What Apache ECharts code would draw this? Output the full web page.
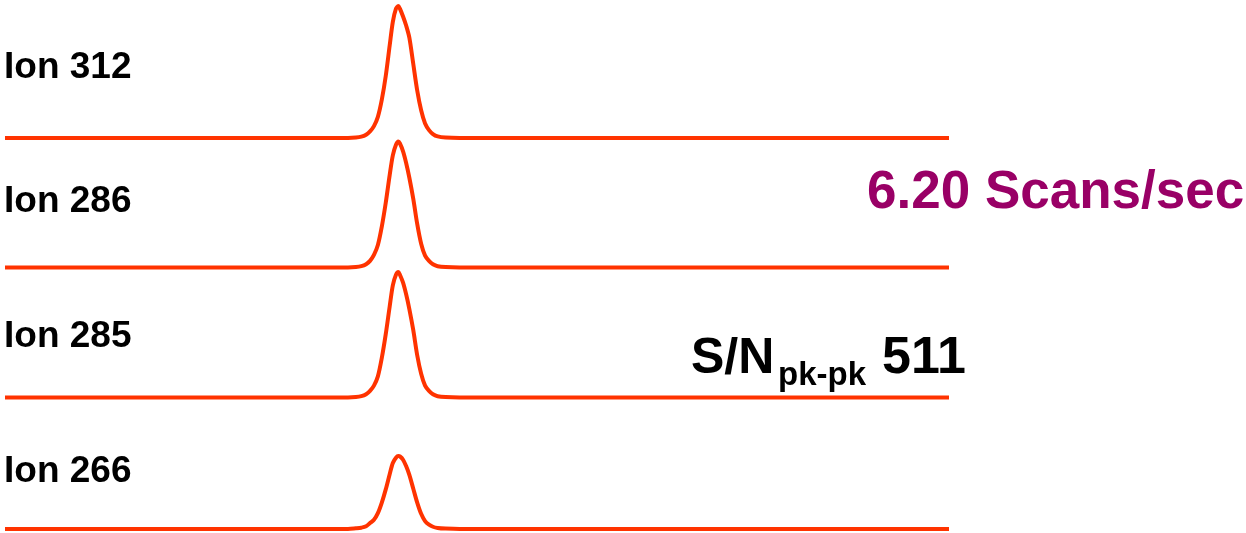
<!DOCTYPE html>
<html>
<head>
<meta charset="utf-8">
<script src="https://cdn.jsdelivr.net/npm/echarts@6/dist/echarts.min.js"></script>
<style>
  html, body { margin: 0; padding: 0; background: #ffffff; }
  #chart { width: 1246px; height: 533px; }
</style>
</head>
<body>
<div id="chart"></div>
<script>
// Scan times (seconds) shared by all extracted-ion traces
const scanTimes = [0, 20.65, 21.8, 22.3, 22.65, 22.95, 23.2, 23.45, 23.7, 23.95, 24.2, 24.45, 24.65, 24.85,
  25.0, 25.1, 25.3, 25.5, 25.7, 25.95, 26.2, 26.45, 26.7, 26.95, 27.2, 27.5, 28.0, 28.9, 60];

// Ion labels, top to bottom
const ionNames = ['Ion 312', 'Ion 286', 'Ion 285', 'Ion 266'];

// Relative abundance of each ion at every scan
const ion312 = [0, 0, 0, 0.3, 1, 2.5, 5, 9, 16, 29, 47, 70, 88, 98, 100, 98, 92, 85, 76, 56, 36, 21, 11, 6, 3, 1.2, 0.3, 0, 0];
const ion286 = [0, 0, 0, 0.3, 1, 2.5, 5, 9.5, 17, 31, 49, 70, 85, 93, 95.5, 94, 88, 79, 68, 52, 33, 18, 9, 5, 2.5, 1, 0.3, 0, 0];
const ion285 = [0, 0, 0, 0.3, 1, 2.5, 5, 9, 16, 30, 48, 69, 85, 93, 95, 93, 87, 78, 67, 51, 32, 18, 9, 5, 2.5, 1, 0.3, 0, 0];
const ion266 = [0, 0, 0, 0.5, 1, 2, 4.5, 7, 12, 20, 30, 41.5, 50, 54, 55.3, 55, 52.5, 47.5, 41, 30.5, 20, 11.5, 6, 3.3, 1.7, 0.8, 0.3, 0, 0];

const traces = [ion312, ion286, ion285, ion266];

const scanRate = '6.20 Scans/sec';
const snLabel = 'S/N';
const snSub = 'pk-pk';
const snValue = '511';

const traceColor = '#ff3300';
const font = '"Liberation Sans", Arial, sans-serif';

// Baseline of each panel (px from top) and its label centre
const baselines = [138, 267.5, 397.5, 529];
const labelY = [68, 202, 337, 472];
const panelH = 132;

const grids = [], xAxes = [], yAxes = [], series = [], graphics = [];
traces.forEach((vals, i) => {
  grids.push({ left: 5, right: 297, top: baselines[i] - panelH, height: panelH, containLabel: false });
  xAxes.push({ type: 'value', gridIndex: i, min: 0, max: 60, show: false });
  yAxes.push({ type: 'value', gridIndex: i, min: 0, max: 100, show: false });
  series.push({
    name: ionNames[i],
    type: 'line',
    xAxisIndex: i,
    yAxisIndex: i,
    data: scanTimes.map((t, k) => [t, vals[k]]),
    smooth: 0.3,
    showSymbol: false,
    clip: false,
    lineStyle: { color: traceColor, width: 4 },
    itemStyle: { color: traceColor }
  });
  graphics.push({
    type: 'text', x: 4, y: labelY[i],
    style: { text: ionNames[i], fill: '#000', font: 'bold 37px ' + font, verticalAlign: 'middle' }
  });
});

const chart = echarts.init(document.getElementById('chart'), null, { renderer: 'canvas' });

graphics.push(
  { type: 'text', x: 867, y: 193,
    style: { text: scanRate, fill: '#990066', font: 'bold 53px ' + font, verticalAlign: 'middle' } },
  { type: 'text', x: 691, y: 359,
    style: { text: snLabel, fill: '#000', font: 'bold 50px ' + font, verticalAlign: 'middle' } },
  { type: 'text', x: 778, y: 376,
    style: { text: snSub, fill: '#000', font: 'bold 33px ' + font, verticalAlign: 'middle' } },
  { type: 'text', x: 882, y: 359,
    style: { text: snValue, fill: '#000', font: 'bold 52px ' + font, verticalAlign: 'middle' } }
);

chart.setOption({
  animation: false,
  backgroundColor: '#ffffff',
  grid: grids,
  xAxis: xAxes,
  yAxis: yAxes,
  series: series,
  graphic: graphics
});
</script>
</body>
</html>
